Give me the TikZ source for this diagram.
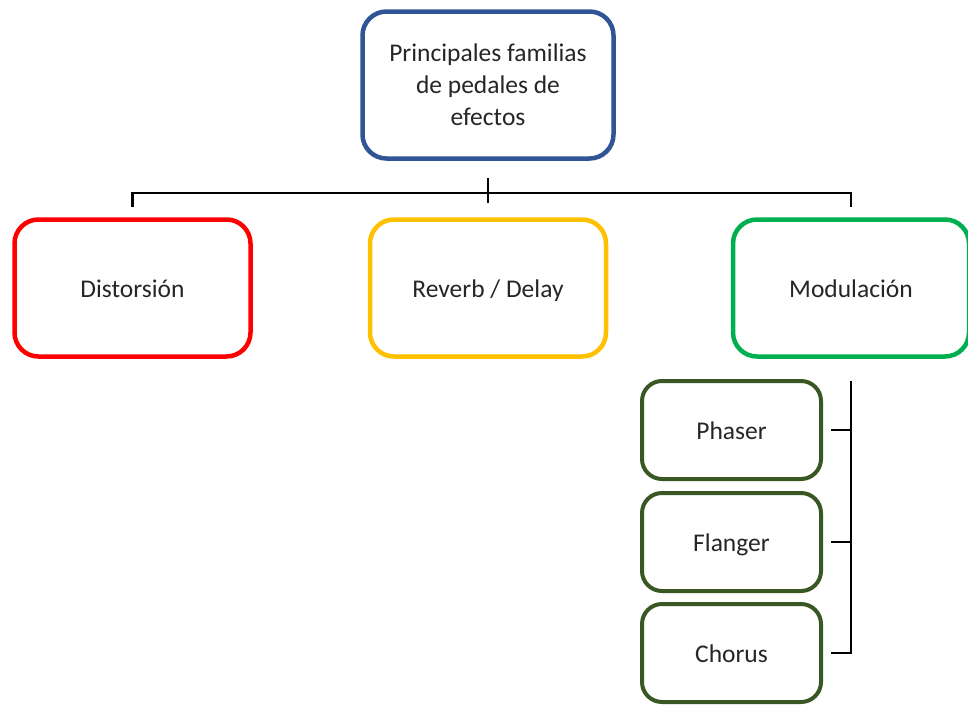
\documentclass[tikz,border=0pt]{standalone}
\usepackage{fontspec}
\setmainfont{Carlito}
\usepackage{xcolor}
\usepackage{tikz}
\usetikzlibrary{positioning}
\definecolor{topblue}{RGB}{47,85,151}
\definecolor{distred}{RGB}{255,0,0}
\definecolor{revyellow}{RGB}{255,192,0}
\definecolor{modgreen}{RGB}{0,176,80}
\definecolor{subgreen}{RGB}{56,87,35}

\begin{document}
\begin{tikzpicture}[x=1pt, y=-1pt,
    box/.style={draw, line width=4.5pt, rounded corners=24pt, fill=white, outer sep=0pt,
        text=black!85, font=\fontsize{25.5}{32}\selectfont, align=center},
    bigbox/.style={box, minimum width=236pt, minimum height=137pt, text height=18.4pt, text depth=0pt},
    subbox/.style={box, line width=4pt, draw=subgreen, rounded corners=20pt, minimum width=179pt, minimum height=98pt,
        text height=18.4pt, text depth=0pt},
    conn/.style={draw=black, line width=2.2pt}]
    \useasboundingbox (0,0) rectangle (968,704);
    \node[box, draw=topblue, minimum width=251pt, minimum height=147pt] (top) at (488,85) {Principales familias\\de pedales de\\efectos};
    \node[bigbox, draw=distred] (dist) at (132.5,288) {Distorsión};
    \node[bigbox, draw=revyellow] (reverb) at (488,288) {Reverb / Delay};
    \node[bigbox, draw=modgreen] (modu) at (851,288) {Modulación};
    \foreach \n/\y/\t in {phaser/430/Phaser,flanger/542/Flanger,chorus/653/Chorus} { \node[subbox] (\n) at (731.5,\y) {\t}; }
    % bus from the top box
    \draw[conn] ([yshift=-19.5pt]top.south) -- ([yshift=16.5pt]reverb.north);
    \draw[conn] ([yshift=12.5pt]dist.north) |- ([yshift=26.5pt]reverb.north) -| ([yshift=12.5pt]modu.north);
    % bracket for the modulation family
    \draw[conn] ([yshift=-24pt]modu.south) |- ([xshift=10pt]chorus.east);
    \foreach \n in {phaser,flanger} { \draw[conn] ([xshift=10pt]\n.east) -- (\n.east -| modu.south); }
\end{tikzpicture}
\end{document}
